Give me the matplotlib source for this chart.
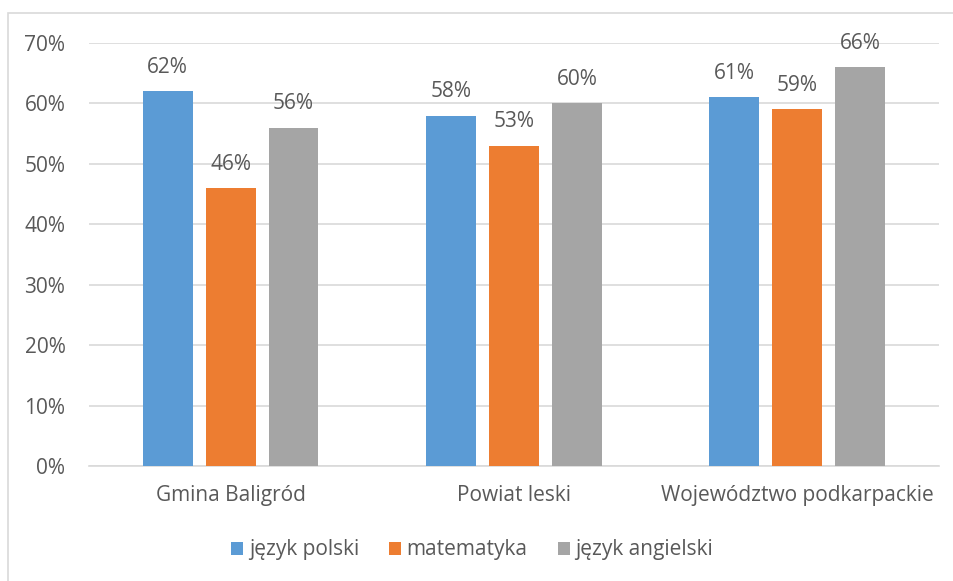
import matplotlib.pyplot as plt
import numpy as np
from matplotlib.patches import Rectangle

categories = ["Gmina Baligród", "Powiat leski", "Województwo podkarpackie"]
series_names = ["język polski", "matematyka", "język angielski"]
values = [
    [62, 58, 61],   # język polski
    [46, 53, 59],   # matematyka
    [56, 60, 66],   # język angielski
]
colors = ["#5B9BD5", "#ED7D31", "#A5A5A5"]
yticks = [0, 10, 20, 30, 40, 50, 60, 70]

text_color = "#595959"
plt.rcParams["font.family"] = ["Open Sans", "DejaVu Sans"]

fig = plt.figure(figsize=(9.54, 5.81), dpi=100)
W, H = 954, 581
ax = fig.add_axes([89 / W, 1 - 466 / H, (939 - 89) / W, (466 - 43) / H])

# outer chart border
fig.patches.append(Rectangle((8 / W, -0.1), 1.2, 1 - 13 / H + 0.1, transform=fig.transFigure,
                             fill=False, edgecolor="#D9D9D9", linewidth=1.2))

x = np.arange(len(categories))
width = 0.176
step = 0.222
for i, (name, vals) in enumerate(zip(series_names, values)):
    pos = x + (i - 1) * step
    ax.bar(pos, vals, width, color=colors[i], label=name, zorder=3)
    for xb, v in zip(pos, vals):
        ax.text(xb, v + 2.2, f"{v}%", ha="center", va="bottom",
                fontsize=15, color=text_color)

ax.set_xlim(-0.5, 2.5)
ax.set_ylim(0, 70)
ax.set_yticks(yticks)
ax.set_yticklabels([f"{t}%" for t in yticks])
ax.set_xticks(x)
ax.set_xticklabels(categories)
ax.grid(axis="y", color="#D9D9D9", linewidth=1.2, zorder=0)
for s in ["top", "right", "left"]:
    ax.spines[s].set_visible(False)
ax.spines["bottom"].set_color("#D9D9D9")
ax.spines["bottom"].set_linewidth(1.2)
ax.tick_params(axis="both", length=0, labelsize=15, colors=text_color)
ax.tick_params(axis="y", pad=17)
ax.tick_params(axis="x", pad=14)

ax.legend(loc="center", bbox_to_anchor=(472 / W, 1 - 550 / H), bbox_transform=fig.transFigure,
          ncol=3, frameon=False, fontsize=15, labelcolor=text_color,
          handlelength=0.58, handleheight=0.58, handletextpad=0.25, columnspacing=1.45)

fig.savefig("out.png", dpi=100)
